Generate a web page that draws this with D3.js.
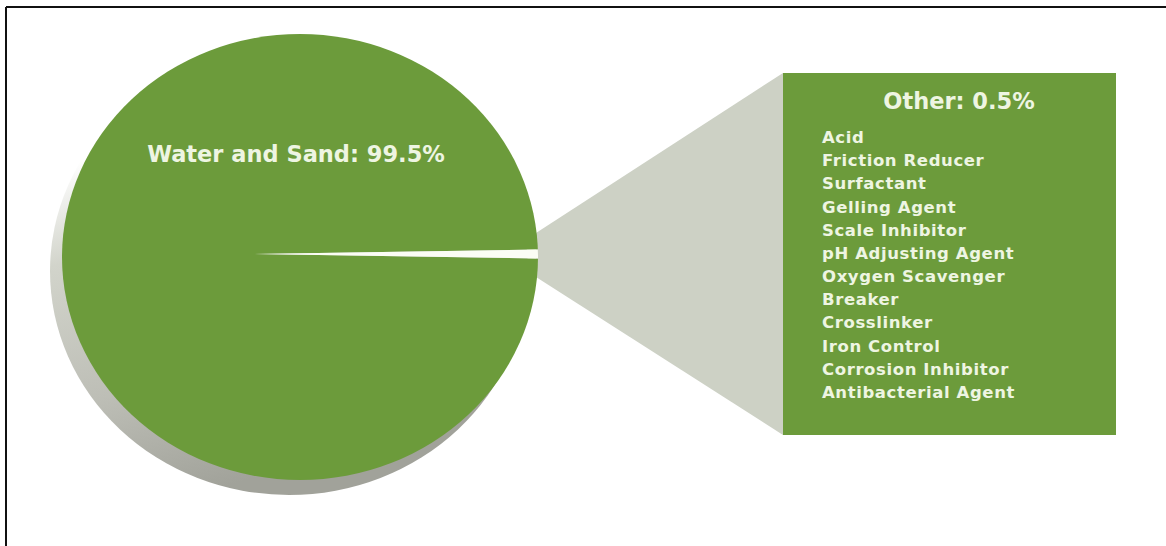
<!DOCTYPE html>
<html>
<head>
<meta charset="utf-8">
<script src="https://cdn.jsdelivr.net/npm/d3@7"></script>
<style>
    html, body { margin: 0; padding: 0; background: #fff; }
    #chart-area { width: 1166px; height: 546px; }
</style>
</head>
<body>
<div id="chart-area"></div>
<script>
/* * * * * * * * * * * * * *
*      Frac fluid pie      *
* * * * * * * * * * * * * */

// slices of the pie
const sliceLabels = ["Water and Sand", "Other"];
const sliceValues = [99.5, 0.5];

// what goes into "Other"
const otherItems = ["Acid", "Friction Reducer", "Surfactant", "Gelling Agent", "Scale Inhibitor",
    "pH Adjusting Agent", "Oxygen Scavenger", "Breaker", "Crosslinker", "Iron Control",
    "Corrosion Inhibitor", "Antibacterial Agent"];


class FracPieVis {

    constructor(parentElement) {
        this.parentElement = parentElement;
        this.green = "#6c9b3b";
        this.textColor = "#eef5e2";
        this.font = "'DejaVu Sans', sans-serif";
        this.initVis();
    }

    initVis() {
        let vis = this;

        vis.width = 1166;
        vis.height = 546;

        vis.svg = d3.select("#" + vis.parentElement).append("svg")
            .attr("width", vis.width)
            .attr("height", vis.height);

        // frame (only top and left edges show in the crop)
        vis.svg.append("line")
            .attr("x1", 6).attr("x2", vis.width).attr("y1", 7).attr("y2", 7)
            .attr("stroke", "#111").attr("stroke-width", 2);
        vis.svg.append("line")
            .attr("x1", 6).attr("x2", 6).attr("y1", 7).attr("y2", vis.height)
            .attr("stroke", "#111").attr("stroke-width", 2);

        // pie ellipse + the point where the wedge comes out
        vis.pie = {cx: 300, cy: 257, rx: 238, ry: 223};
        vis.apex = {x: 253, y: 254};
        vis.box = {x: 783, y: 73, w: 333, h: 362};

        let defs = vis.svg.append("defs");
        let grad = defs.append("linearGradient")
            .attr("id", "shadowGrad")
            .attr("x1", "0").attr("y1", "0").attr("x2", "0.3").attr("y2", "1");
        grad.append("stop").attr("offset", "0.25").attr("stop-color", "#ffffff");
        grad.append("stop").attr("offset", "0.45").attr("stop-color", "#d2d4cb");
        grad.append("stop").attr("offset", "0.75").attr("stop-color", "#bdbeb6");
        grad.append("stop").attr("offset", "1").attr("stop-color", "#a1a29a");

        defs.append("clipPath").attr("id", "pieClip")
            .append("ellipse")
            .attr("cx", vis.pie.cx).attr("cy", vis.pie.cy)
            .attr("rx", vis.pie.rx).attr("ry", vis.pie.ry);

        vis.wrangleData();
    }

    wrangleData() {
        let vis = this;

        vis.displayData = sliceLabels.map((label, i) => ({label: label, value: sliceValues[i]}));

        // small slice centred on 3 o'clock
        let total = d3.sum(vis.displayData, d => d.value);
        let half = Math.PI * vis.displayData[1].value / total;

        vis.pieLayout = d3.pie()
            .sort(null)
            .value(d => d.value)
            .startAngle(Math.PI / 2 + half)
            .endAngle(Math.PI / 2 + half + 2 * Math.PI);

        vis.arcs = vis.pieLayout(vis.displayData);

        vis.updateVis();
    }

    updateVis() {
        let vis = this;
        let p = vis.pie;

        // shadow under the disc
        vis.svg.append("ellipse")
            .attr("cx", p.cx - 11).attr("cy", p.cy + 14)
            .attr("rx", p.rx + 1).attr("ry", p.ry + 1)
            .attr("fill", "url(#shadowGrad)");

        // callout wedge from the slice to the box
        let edgeX = p.cx + p.rx * Math.sqrt(1 - Math.pow((vis.apex.y - p.cy) / p.ry, 2));
        let b = vis.box;
        vis.svg.append("path")
            .attr("d", d3.line()([
                [edgeX - 2, vis.apex.y - 21],
                [b.x, b.y],
                [b.x, b.y + b.h],
                [edgeX - 2, vis.apex.y + 23]
            ]))
            .attr("fill", "#cdd1c5");

        // pie slices
        let arc = d3.arc().innerRadius(0).outerRadius(400);
        vis.svg.append("g")
            .attr("clip-path", "url(#pieClip)")
            .append("g")
            .attr("transform", `translate(${vis.apex.x},${vis.apex.y})`)
            .selectAll(".slice")
            .data(vis.arcs)
            .enter().append("path")
            .attr("class", "slice")
            .attr("d", arc)
            .attr("fill", (d, i) => i === 0 ? vis.green : "#fbfdf5");

        vis.svg.append("text")
            .attr("x", 296)
            .attr("y", 162)
            .attr("text-anchor", "middle")
            .style("font-family", vis.font)
            .style("font-weight", "bold")
            .style("font-size", "22.5px")
            .style("fill", vis.textColor)
            .text(`${vis.displayData[0].label}: ${vis.displayData[0].value}%`);

        // box with the list
        vis.svg.append("rect")
            .attr("x", b.x).attr("y", b.y)
            .attr("width", b.w).attr("height", b.h)
            .attr("fill", vis.green);

        vis.svg.append("text")
            .attr("x", 959)
            .attr("y", 109)
            .attr("text-anchor", "middle")
            .style("font-family", vis.font)
            .style("font-weight", "bold")
            .style("font-size", "22.5px")
            .style("fill", vis.textColor)
            .text(`${vis.displayData[1].label}: ${vis.displayData[1].value}%`);

        let y = d3.scalePoint()
            .domain(otherItems)
            .range([143, 398]);

        vis.svg.selectAll(".item")
            .data(otherItems)
            .enter().append("text")
            .attr("class", "item")
            .attr("x", 822)
            .attr("y", d => y(d))
            .style("font-family", vis.font)
            .style("font-weight", "bold")
            .style("font-size", "16.5px")
            .style("letter-spacing", "0.6px")
            .style("fill", vis.textColor)
            .text(d => d);
    }
}

new FracPieVis("chart-area");
</script>
</body>
</html>
